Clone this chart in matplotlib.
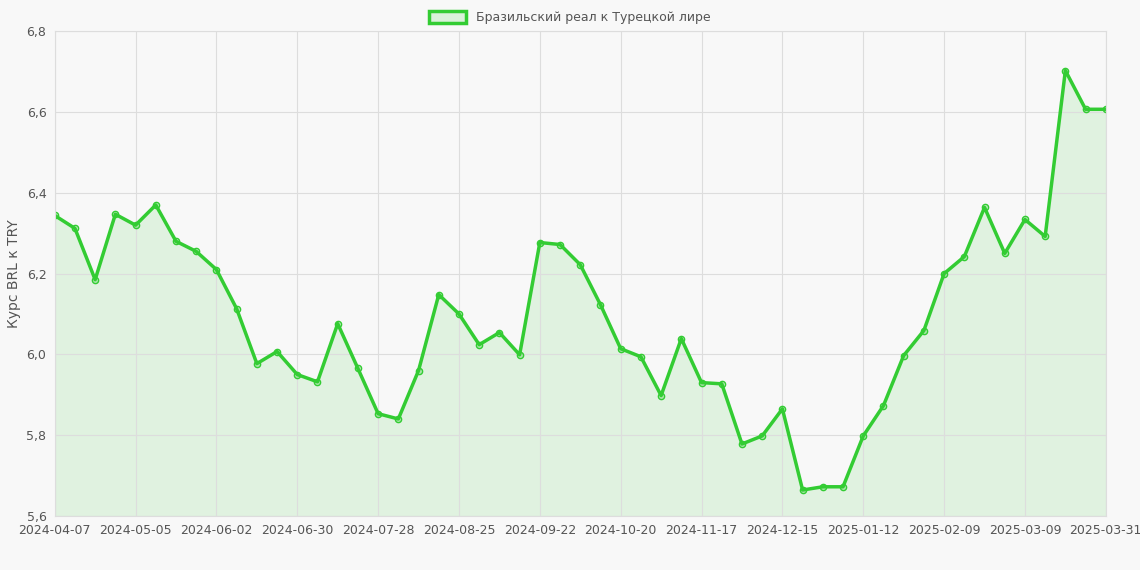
import matplotlib
matplotlib.use('Agg')
import matplotlib.pyplot as plt
from matplotlib.patches import Patch

labels = ['2024-04-07', '2024-05-05', '2024-06-02', '2024-06-30', '2024-07-28', '2024-08-25',
          '2024-09-22', '2024-10-20', '2024-11-17', '2024-12-15', '2025-01-12', '2025-02-09',
          '2025-03-09', '2025-03-31']
rates = [6.344, 6.312, 6.185, 6.347, 6.320, 6.370, 6.280, 6.255, 6.210, 6.113,
         5.977, 6.007, 5.950, 5.932, 6.076, 5.965, 5.853, 5.840, 5.960, 6.148,
         6.100, 6.024, 6.054, 5.999, 6.277, 6.272, 6.222, 6.123, 6.014, 5.994,
         5.898, 6.039, 5.930, 5.927, 5.778, 5.798, 5.865, 5.664, 5.672, 5.672,
         5.798, 5.873, 5.997, 6.059, 6.200, 6.242, 6.364, 6.250, 6.334, 6.292,
         6.703, 6.607, 6.607]

xs = list(range(len(rates)))
tick_pos = list(range(0, len(rates) - 1, 4)) + [len(rates) - 1]

bg = '#f8f8f8'
line_c = '#33cc33'
fig = plt.figure(figsize=(11.4, 5.7), dpi=100, facecolor=bg)
ax = fig.add_axes([0.048, 0.095, 0.922, 0.85], facecolor=bg)

ax.fill_between(xs, rates, 5.6, color=line_c, alpha=0.12, linewidth=0)
ax.plot(xs, rates, color=line_c, linewidth=2.5, marker='o', markersize=4.5,
        markerfacecolor=(0.2, 0.8, 0.2, 0.3), markeredgecolor=line_c, markeredgewidth=1)

ax.set_xlim(0, len(rates) - 1)
ax.set_ylim(5.6, 6.8)
ax.set_xticks(tick_pos)
ax.set_xticklabels(labels)
yt = [5.6, 5.8, 6.0, 6.2, 6.4, 6.6, 6.8]
ax.set_yticks(yt)
ax.set_yticklabels([f'{v:.1f}'.replace('.', ',') for v in yt])
ax.tick_params(colors='#555555', labelsize=9, length=0, pad=6)
ax.grid(color='#dddddd', linewidth=0.8)
for s in ax.spines.values():
    s.set_color('#dddddd')
ax.set_ylabel('Курс BRL к TRY', color='#555555', fontsize=10)

leg = fig.legend(handles=[Patch(facecolor=(0.2, 0.8, 0.2, 0.15), edgecolor=line_c, linewidth=2.5,
                                label='Бразильский реал к Турецкой лире')],
                 loc='upper center', bbox_to_anchor=(0.5, 1.0), frameon=False, fontsize=9,
                 handlelength=3, handleheight=1)
for t in leg.get_texts():
    t.set_color('#555555')

fig.savefig('out.png', dpi=100, facecolor=bg)
